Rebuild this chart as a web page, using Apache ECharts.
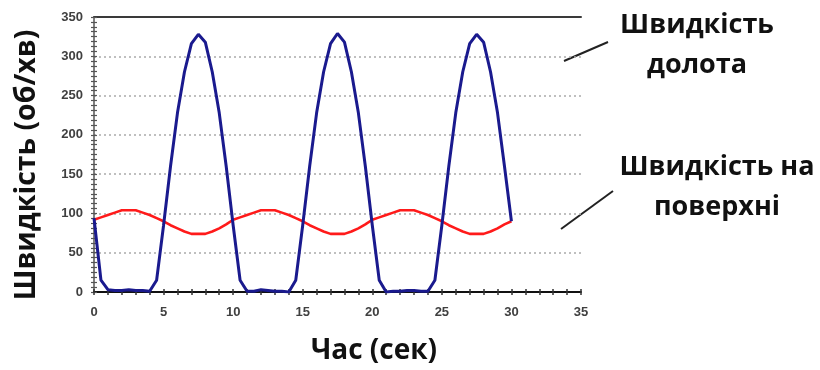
<!DOCTYPE html>
<html>
<head>
<meta charset="utf-8">
<script src="https://cdn.jsdelivr.net/npm/echarts@6/dist/echarts.min.js"></script>
<style>
  html, body { margin: 0; padding: 0; background: #fff; }
  #chart { width: 820px; height: 370px; }
</style>
</head>
<body>
<div id="chart"></div>
<script>
// Time samples, seconds (every 0.5 s)
const timeSec = [
  0, 0.5, 1, 1.5, 2, 2.5, 3, 3.5, 4, 4.5,
  5, 5.5, 6, 6.5, 7, 7.5, 8, 8.5, 9, 9.5,
  10, 10.5, 11, 11.5, 12, 12.5, 13, 13.5, 14, 14.5,
  15, 15.5, 16, 16.5, 17, 17.5, 18, 18.5, 19, 19.5,
  20, 20.5, 21, 21.5, 22, 22.5, 23, 23.5, 24, 24.5,
  25, 25.5, 26, 26.5, 27, 27.5, 28, 28.5, 29, 29.5,
  30
];

// Bit speed, rpm
const bitSpeed = [
  94, 15, 3, 2, 2, 3, 2, 2, 1, 15,
  85, 160, 228, 280, 316, 328, 318, 280, 228, 160,
  85, 15, 1, 1, 3, 2, 1, 1, 0, 15,
  85, 160, 228, 280, 316, 329, 318, 280, 228, 160,
  85, 15, 0, 1, 1, 2, 2, 1, 1, 15,
  85, 160, 228, 280, 316, 328, 318, 280, 228, 160,
  90
];

// Surface speed, rpm
const surfaceSpeed = [
  92, 95, 98, 101, 104, 104, 104, 101, 98, 94,
  90, 85, 81, 77, 74, 74, 74, 77, 81, 86,
  92, 95, 98, 101, 104, 104, 104, 101, 98, 94,
  90, 85, 81, 77, 74, 74, 74, 77, 81, 86,
  92, 95, 98, 101, 104, 104, 104, 101, 98, 94,
  90, 85, 81, 77, 74, 74, 74, 77, 81, 86,
  90
];

const xTicks = [0, 5, 10, 15, 20, 25, 30, 35];
const yTicks = [0, 50, 100, 150, 200, 250, 300, 350];

const yTitle = 'Швидкість (об/хв)';
const xTitle = 'Час (сек)';
const bitLabel = 'Швидкість\nдолота';
const surfaceLabel = 'Швидкість на\nповерхні';

const pair = (xs, ys) => xs.map((x, i) => [x, ys[i]]);

const chart = echarts.init(document.getElementById('chart'), null, { renderer: 'canvas' });

const tickFont = { fontFamily: 'Liberation Sans', fontWeight: 'bold', fontSize: 13, color: '#404040' };
const noteFont = 'bold 27px "Open Sans"';

const xBase = {
  type: 'value', min: xTicks[0], max: xTicks[xTicks.length - 1], interval: 5,
  splitLine: { show: false }
};
const yBase = {
  type: 'value', min: yTicks[0], max: yTicks[yTicks.length - 1], interval: 50
};

chart.setOption({
  animation: false,
  grid: { left: 94, top: 17, width: 487, height: 275, containLabel: false },
  xAxis: [
    Object.assign({}, xBase, {
      position: 'bottom',
      axisLine: { lineStyle: { color: '#111', width: 2 } },
      axisTick: { show: true, inside: false, length: 3, lineStyle: { color: '#333', width: 1.5 } },
      minorTick: { show: true, splitNumber: 5, length: 3, lineStyle: { color: '#333', width: 1.5 } },
      axisLabel: Object.assign({ margin: 14 }, tickFont)
    }),
    Object.assign({}, xBase, {
      position: 'bottom',
      axisLine: { show: false },
      axisTick: { show: true, inside: true, length: 3, lineStyle: { color: '#333', width: 1.5 } },
      minorTick: { show: true, splitNumber: 5, length: 3, lineStyle: { color: '#333', width: 1.5 } },
      axisLabel: { show: false }
    }),
    Object.assign({}, xBase, {
      position: 'top',
      axisLine: { lineStyle: { color: '#3a3a3a', width: 2 } },
      axisTick: { show: false },
      axisLabel: { show: false }
    })
  ],
  yAxis: [
    Object.assign({}, yBase, {
      position: 'left',
      axisLine: { show: true, lineStyle: { color: '#555', width: 1.5 } },
      axisTick: { show: true, inside: false, length: 3, lineStyle: { color: '#555', width: 1.2 } },
      minorTick: { show: true, splitNumber: 8, length: 3, lineStyle: { color: '#555', width: 1.2 } },
      axisLabel: Object.assign({ margin: 11 }, tickFont),
      splitLine: { show: true, lineStyle: { color: '#aaa', type: [2, 3], width: 1.5 } }
    }),
    Object.assign({}, yBase, {
      position: 'left',
      axisLine: { show: false },
      axisTick: { show: true, inside: true, length: 3, lineStyle: { color: '#555', width: 1.2 } },
      minorTick: { show: true, splitNumber: 8, length: 3, lineStyle: { color: '#555', width: 1.2 } },
      axisLabel: { show: false },
      splitLine: { show: false }
    })
  ],
  series: [
    {
      name: 'surface', type: 'line', xAxisIndex: 0, yAxisIndex: 0,
      data: pair(timeSec, surfaceSpeed), showSymbol: false, symbol: 'none',
      lineStyle: { color: '#ff1a1a', width: 2.6 }, z: 3
    },
    {
      name: 'bit', type: 'line', xAxisIndex: 0, yAxisIndex: 0,
      data: pair(timeSec, bitSpeed), showSymbol: false, symbol: 'none',
      lineStyle: { color: '#1a1a8e', width: 3 }, z: 4
    }
  ],
  graphic: [
    {
      type: 'text', x: 27, y: 165, rotation: Math.PI / 2,
      style: { text: yTitle, font: 'bold 28.5px "Open Sans"', fill: '#111', align: 'center', verticalAlign: 'middle' }
    },
    {
      type: 'text', x: 374, y: 351,
      style: { text: xTitle, font: 'bold 28px "Open Sans"', fill: '#111', align: 'center', verticalAlign: 'middle' }
    },
    {
      type: 'text', x: 697, y: 45,
      style: { text: bitLabel, font: noteFont, fill: '#111', align: 'center', verticalAlign: 'middle', lineHeight: 40 }
    },
    {
      type: 'text', x: 717, y: 187,
      style: { text: surfaceLabel, font: noteFont, fill: '#111', align: 'center', verticalAlign: 'middle', lineHeight: 40 }
    },
    {
      type: 'line', shape: { x1: 564, y1: 61, x2: 608, y2: 42 },
      style: { stroke: '#222', lineWidth: 2 }
    },
    {
      type: 'line', shape: { x1: 561, y1: 229, x2: 613, y2: 191 },
      style: { stroke: '#222', lineWidth: 2 }
    }
  ]
});
</script>
</body>
</html>
